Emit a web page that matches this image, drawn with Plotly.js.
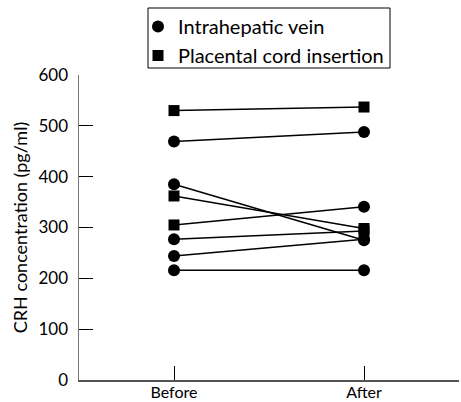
<!DOCTYPE html>
<html>
<head>
<meta charset="utf-8">
<script src="https://cdn.plot.ly/plotly-3.0.1.min.js"></script>
<style>html,body{margin:0;padding:0;background:#fff}#chart{width:461px;height:402px}</style>
</head>
<body>
<div id="chart"></div>
<script>
// Time points
const categories = ["Before", "After"];
// CRH concentration (pg/ml) for each paired sample
const beforeValues = [530, 469, 385, 362, 305, 277, 244, 216];
const afterValues  = [537, 488, 275, 298, 341, 293, 277, 216];
// Marker symbol drawn at each end of each pair
const beforeSymbols = ["square", "circle", "circle", "square", "square", "circle", "circle", "circle"];
const afterSymbols  = ["square", "circle", "circle", "square", "circle", "square", "circle", "circle"];
// Legend labels
const legendNames = {circle: "Intrahepatic vein", square: "Placental cord insertion"};
const yTicks = [0, 100, 200, 300, 400, 500, 600];

const traces = [];
beforeValues.forEach((b, i) => {
  traces.push({
    x: categories, y: [b, afterValues[i]],
    mode: "lines", type: "scatter",
    line: {color: "#000", width: 1.5},
    showlegend: false, hoverinfo: "skip"
  });
});

["circle", "square"].forEach(sym => {
  const xs = [], ys = [];
  beforeValues.forEach((b, i) => {
    if (beforeSymbols[i] === sym) { xs.push(categories[0]); ys.push(b); }
    if (afterSymbols[i] === sym) { xs.push(categories[1]); ys.push(afterValues[i]); }
  });
  traces.push({
    x: xs, y: ys, mode: "markers", type: "scatter",
    name: legendNames[sym],
    marker: {symbol: sym, size: sym === "circle" ? 12 : 11, color: "#000"}
  });
});

const L = 79, W = 380, T = 75, H = 305;
const px = v => (v - L) / W;
const py = v => 1 - (v - T) / H;

const layout = {
  width: 461, height: 402,
  margin: {l: L, r: 2, t: T, b: 22},
  paper_bgcolor: "#fff", plot_bgcolor: "#fff",
  font: {family: "Lato, 'Open Sans', sans-serif", color: "#000"},
  showlegend: true,
  legend: {
    x: px(138), y: py(7),
    xanchor: "left", yanchor: "top",
    borderwidth: 0,
    font: {size: 20, color: "#000"},
    bgcolor: "rgba(0,0,0,0)",
    itemwidth: 30
  },
  shapes: [{
    type: "rect", xref: "paper", yref: "paper",
    x0: px(148), x1: px(390), y0: py(68), y1: py(8),
    line: {color: "#000", width: 1}, fillcolor: "rgba(0,0,0,0)"
  }],
  xaxis: {
    type: "category",
    range: [-0.5, 1.5],
    showgrid: false, zeroline: false,
    showline: true, linecolor: "#555", linewidth: 1.5,
    ticks: "inside", ticklen: 14, tickwidth: 1, tickcolor: "#000",
    tickfont: {size: 16, color: "#000"},
    ticklabelstandoff: -3,
    fixedrange: true
  },
  yaxis: {
    range: [0, 600],
    tickvals: yTicks,
    showgrid: false, zeroline: false,
    showline: true, linecolor: "#777", linewidth: 1.5,
    ticks: "inside", ticklen: 14, tickwidth: 1, tickcolor: "#000",
    tickfont: {size: 17, color: "#000"},
    ticklabelstandoff: 6,
    title: {text: "CRH concentration (pg/ml)", font: {size: 18, color: "#000"}, standoff: 6},
    fixedrange: true
  }
};

Plotly.newPlot("chart", traces, layout, {displayModeBar: false, staticPlot: true});
</script>
</body>
</html>
